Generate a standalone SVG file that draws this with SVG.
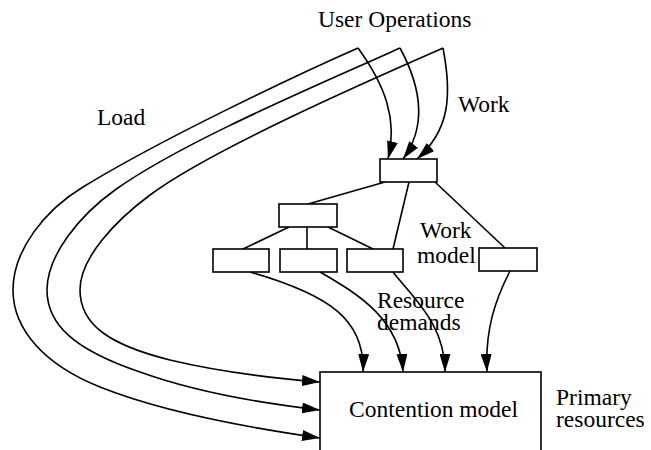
<svg xmlns="http://www.w3.org/2000/svg" width="651" height="450" viewBox="0 0 651 450">
  <defs>
    <marker id="arrow" markerUnits="userSpaceOnUse" markerWidth="18" markerHeight="11" refX="18" refY="5.5" orient="auto">
      <path d="M0,0 L18,5.5 L0,11 z" fill="#000"/>
    </marker>
    <style>
      .lbl { font-family: "Liberation Serif", "Times New Roman", serif; font-size: 23.5px; fill: #000; }
      .box { fill: #fff; stroke: #000; stroke-width: 1.6; }
      .edge { fill: none; stroke: #000; stroke-width: 1.6; }
      .arr { marker-end: url(#arrow); }
    </style>
  </defs>
  <rect width="651" height="450" fill="#fff"/>

  <!-- labels -->
  <text class="lbl" x="318" y="27">User Operations</text>
  <text class="lbl" x="97" y="125">Load</text>
  <text class="lbl" x="458" y="112">Work</text>
  <text class="lbl" x="420" y="238">Work</text>
  <text class="lbl" x="417" y="263">model</text>
  <text class="lbl" x="556" y="405">Primary</text>
  <text class="lbl" x="556" y="427">resources</text>

  <!-- connectors -->
  <g id="connectors">
    <!-- load paths: user operations to the contention model -->
    <path class="edge arr" d="M358,48 C290,78 160,140 83,187 C45,210 13,250 13,290 C13,330 45,365 100,387 C160,411 250,428 320,438"/>
    <path class="edge arr" d="M400,48 C330,80 185,140 115,190 C80,215 47,255 47,290 C47,325 75,350 140,372 C190,390 250,402 320,410"/>
    <path class="edge arr" d="M443,48 C370,80 210,150 150,195 C115,221 80,258 80,290 C80,325 110,345 170,360 C220,372 270,378 320,382"/>
    <!-- work paths: user operations to the top of the work model -->
    <path class="edge arr" d="M358,48 C385,85 398,120 388,159"/>
    <path class="edge arr" d="M400,48 C420,85 428,125 403,159"/>
    <path class="edge arr" d="M443,48 C452,95 450,130 417,159"/>
    <!-- work model tree -->
    <path class="edge" d="M385,182 L308,204"/>
    <path class="edge" d="M409,182 L393,249"/>
    <path class="edge" d="M435,182 L505,248"/>
    <path class="edge" d="M289,227 L243,249"/>
    <path class="edge" d="M307,227 L307,249"/>
    <path class="edge" d="M328,227 L373,249"/>
    <!-- resource demands -->
    <path class="edge arr" d="M250,272 C330,295 365,320 363,372"/>
    <path class="edge arr" d="M320,272 C360,295 400,320 403,372"/>
    <path class="edge arr" d="M393,272 C415,300 445,325 445,372"/>
    <path class="edge arr" d="M510,271 C495,300 485,330 487,372"/>
  </g>

  <!-- work model nodes -->
  <g id="op-root"><rect class="box" x="380" y="159" width="57" height="23"/></g>
  <g id="op-mid"><rect class="box" x="279" y="204" width="58" height="23"/></g>
  <g id="op-leaf-1"><rect class="box" x="213" y="249" width="56" height="23"/></g>
  <g id="op-leaf-2"><rect class="box" x="280" y="249" width="57" height="23"/></g>
  <g id="op-leaf-3"><rect class="box" x="347" y="249" width="56" height="23"/></g>
  <g id="op-leaf-4"><rect class="box" x="479" y="248" width="58" height="23"/></g>

  <!-- resource demand label sits over the connectors -->
  <text class="lbl" x="377" y="308">Resource</text>
  <text class="lbl" x="377" y="330">demands</text>

  <!-- contention model -->
  <g id="contention">
    <rect class="box" x="320" y="372" width="221" height="90"/>
    <text class="lbl" x="349" y="417">Contention model</text>
  </g>
</svg>
